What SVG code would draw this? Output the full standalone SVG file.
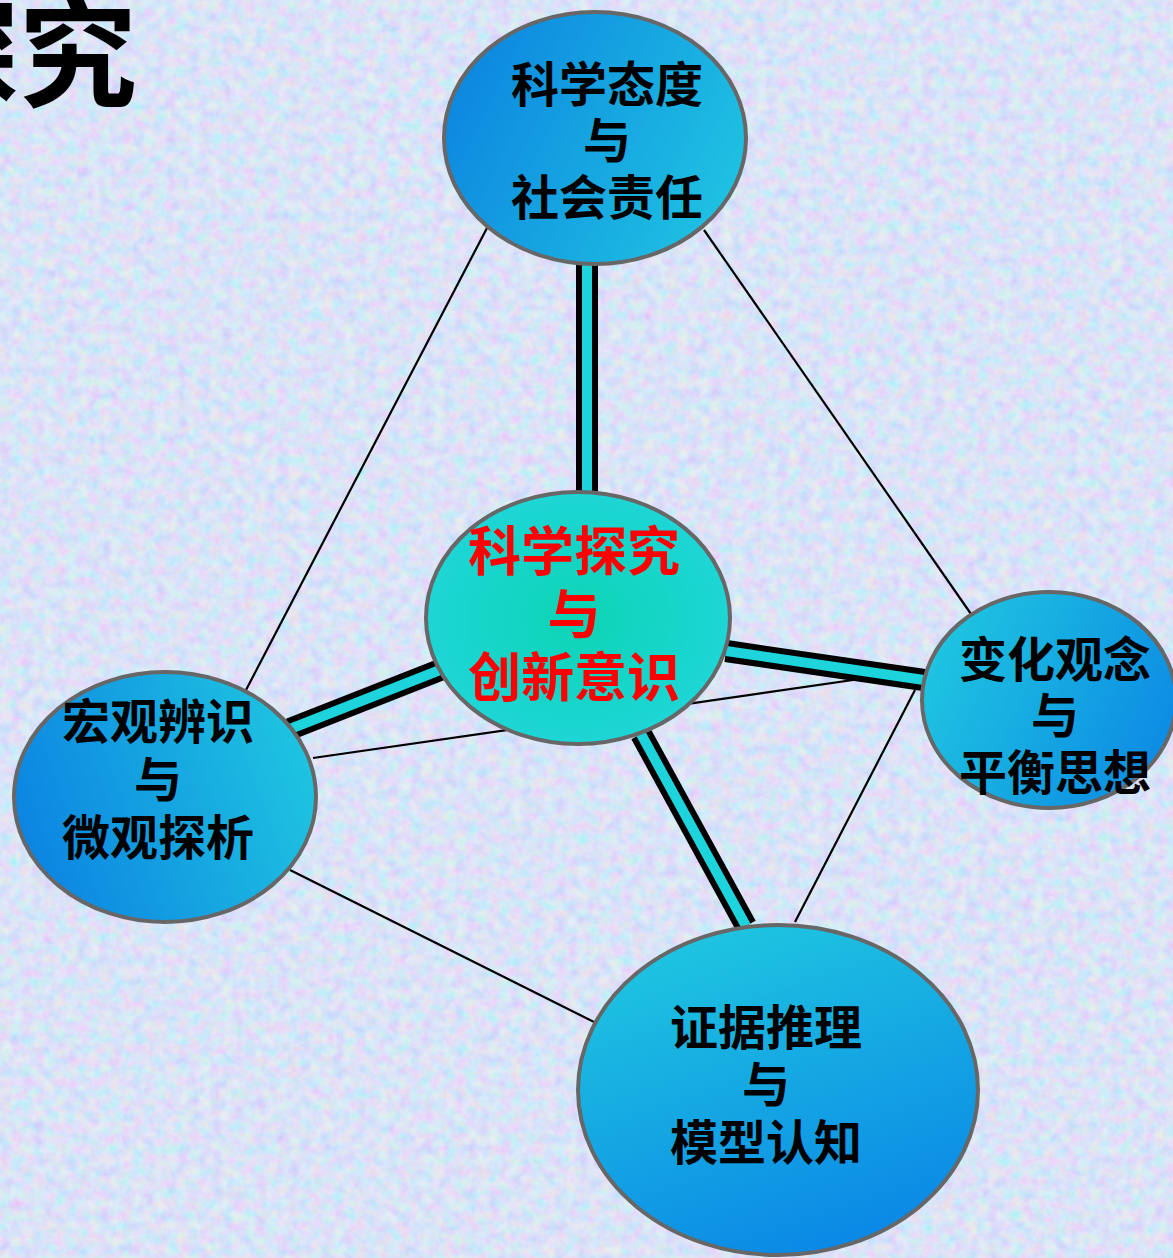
<svg xmlns="http://www.w3.org/2000/svg" width="1173" height="1258" viewBox="0 0 1173 1258">
<style>
.thin{stroke:#000;stroke-width:2.2;fill:none}
.outer{stroke:#000;stroke-width:22;fill:none}
.inner{stroke:#1dd3dc;stroke-width:10;fill:none}
.node{stroke:#676767;stroke-width:4}
.lbl{font-family:"Noto Sans CJK SC","Noto Sans",sans-serif;font-weight:700;text-anchor:middle;fill:#000}
.red{fill:#ff0000}
</style>
<defs>
<filter id="tex" x="0" y="0" width="100%" height="100%">
<feTurbulence type="fractalNoise" baseFrequency="0.09" numOctaves="3" seed="7" result="n"/>
<feColorMatrix type="matrix" in="n" values="0.9 -0.4 0 0 0.55  0 0.6 -0.3 0 0.68  -0.2 0 0.5 0 0.82  0 0 0 0 1"/>
</filter>
<linearGradient id="gTop" x1="0" y1="0.3" x2="1" y2="0.7">
<stop offset="0" stop-color="#0d86e0"/><stop offset="1" stop-color="#1fc3e2"/>
</linearGradient>
<linearGradient id="gLeft" x1="0" y1="0.6" x2="1" y2="0.3">
<stop offset="0" stop-color="#0c84e2"/><stop offset="1" stop-color="#1fc6e0"/>
</linearGradient>
<linearGradient id="gRight" x1="0" y1="0.3" x2="1" y2="0.7">
<stop offset="0" stop-color="#1fc6e0"/><stop offset="1" stop-color="#0c8ae4"/>
</linearGradient>
<linearGradient id="gBot" x1="0.3" y1="0" x2="0.7" y2="1">
<stop offset="0" stop-color="#1fc6e0"/><stop offset="1" stop-color="#0a86e6"/>
</linearGradient>
<radialGradient id="gCen" cx="0.5" cy="0.5" r="0.5">
<stop offset="0" stop-color="#0cd4b4"/><stop offset="1" stop-color="#1dd6d6"/>
</radialGradient>
</defs>
<rect x="0" y="0" width="1173" height="1258" fill="#c9d9f3"/>
<rect x="0" y="0" width="1173" height="1258" filter="url(#tex)" opacity="0.6"/>
<text x="137" y="98" font-family="'Noto Sans CJK SC','Noto Sans',sans-serif" font-weight="700" font-size="118" text-anchor="end" fill="#000">探究</text>
<g id="connectors">
<line class="thin" x1="487" y1="228" x2="246" y2="690"/>
<line class="thin" x1="704" y1="230" x2="971" y2="614"/>
<line class="thin" x1="313" y1="758" x2="922" y2="670"/>
<line class="thin" x1="915" y1="690" x2="795" y2="922"/>
<line class="thin" x1="290" y1="870" x2="594" y2="1022"/>
<line class="outer" x1="587" y1="262" x2="587" y2="496"/>
<line class="inner" x1="587" y1="262" x2="587" y2="496"/>
<line class="outer" x1="726" y1="651" x2="924" y2="680"/>
<line class="inner" x1="726" y1="651" x2="924" y2="680"/>
<line class="outer" x1="440" y1="670" x2="290" y2="729"/>
<line class="inner" x1="440" y1="670" x2="290" y2="729"/>
<line class="outer" x1="641" y1="734" x2="746" y2="926"/>
<line class="inner" x1="641" y1="734" x2="746" y2="926"/>
</g>
<g id="node-top">
<ellipse class="node" cx="595" cy="138" rx="151" ry="126" fill="url(#gTop)"/>
<text class="lbl" font-size="48" x="607" y="102">科学态度</text>
<text class="lbl" font-size="48" x="607" y="158">与</text>
<text class="lbl" font-size="48" x="607" y="215">社会责任</text>
</g>
<g id="node-center">
<ellipse class="node" cx="578" cy="618" rx="152" ry="126" fill="url(#gCen)"/>
<text class="lbl red" font-size="53" x="574" y="571">科学探究</text>
<text class="lbl red" font-size="53" x="574" y="634">与</text>
<text class="lbl red" font-size="53" x="574" y="697">创新意识</text>
</g>
<g id="node-right">
<ellipse class="node" cx="1049" cy="700" rx="127" ry="108" fill="url(#gRight)"/>
<text class="lbl" font-size="48" x="1055" y="677">变化观念</text>
<text class="lbl" font-size="48" x="1055" y="733">与</text>
<text class="lbl" font-size="48" x="1055" y="790">平衡思想</text>
</g>
<g id="node-left">
<ellipse class="node" cx="165" cy="797" rx="151" ry="125" fill="url(#gLeft)"/>
<text class="lbl" font-size="48" x="158" y="739">宏观辨识</text>
<text class="lbl" font-size="48" x="158" y="797">与</text>
<text class="lbl" font-size="48" x="158" y="855">微观探析</text>
</g>
<g id="node-bottom">
<ellipse class="node" cx="778" cy="1090" rx="200" ry="165" fill="url(#gBot)"/>
<text class="lbl" font-size="48" x="766" y="1045">证据推理</text>
<text class="lbl" font-size="48" x="766" y="1102">与</text>
<text class="lbl" font-size="48" x="766" y="1160">模型认知</text>
</g>
</svg>
